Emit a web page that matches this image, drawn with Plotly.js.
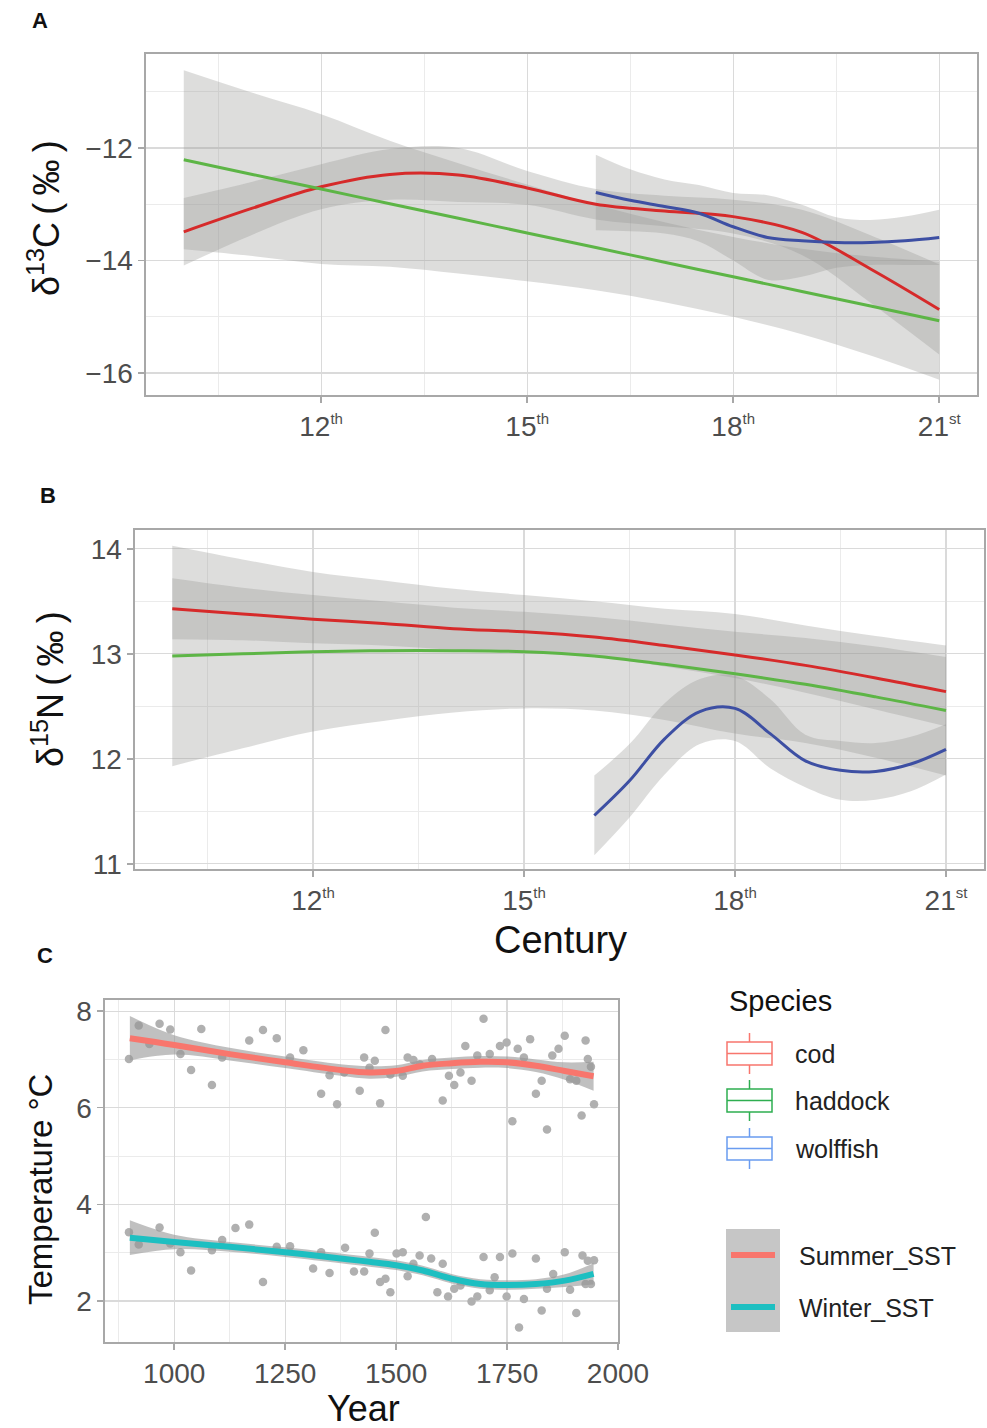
<!DOCTYPE html>
<html>
<head>
<meta charset="utf-8">
<script src="https://cdn.plot.ly/plotly-3.0.1.min.js"></script>
<style>html,body{margin:0;padding:0;background:#fff}#chart{width:987px;height:1428px}</style>
</head>
<body>
<div id="chart"></div>
<script>
// ---------- DATA ----------
// Panel A: delta13C by century
const centuryA = [10, 11, 12, 13, 14, 15, 16, 17, 18, 19, 20, 21];
const codA     = [-13.49, -13.07, -12.69, -12.47, -12.48, -12.71, -13.00, -13.12, -13.22, -13.50, -14.15, -14.87];
const codA_hi  = [-12.89, -12.60, -12.29, -12.02, -12.00, -12.41, -12.73, -12.85, -12.92, -13.10, -13.55, -14.07];
const codA_lo  = [-14.09, -13.54, -13.09, -12.92, -12.96, -13.01, -13.27, -13.39, -13.52, -13.90, -14.75, -15.67];
const hadA     = [-12.21, -12.47, -12.73, -12.99, -13.25, -13.51, -13.77, -14.03, -14.29, -14.55, -14.81, -15.07];
const hadA_hi  = [-10.62, -11.02, -11.40, -11.87, -12.27, -12.65, -13.01, -13.32, -13.58, -13.79, -13.93, -14.02];
const hadA_lo  = [-13.80, -13.92, -14.06, -14.11, -14.23, -14.37, -14.53, -14.74, -15.00, -15.31, -15.69, -16.12];
const centuryWolf = [16, 16.5, 17, 17.5, 18, 18.5, 19, 19.5, 20, 20.5, 21];
const wolfA    = [-12.79, -12.93, -13.04, -13.16, -13.40, -13.59, -13.65, -13.68, -13.68, -13.65, -13.59];
const wolfA_hi = [-12.12, -12.38, -12.56, -12.66, -12.80, -12.84, -13.01, -13.23, -13.28, -13.22, -13.10];
const wolfA_lo = [-13.46, -13.48, -13.52, -13.66, -14.00, -14.34, -14.29, -14.13, -14.08, -14.08, -14.08];

// Panel B: delta15N by century
const centuryB = [10, 11, 12, 13, 14, 15, 16, 17, 18, 19, 20, 21];
const codB     = [13.43, 13.38, 13.33, 13.29, 13.24, 13.21, 13.16, 13.08, 12.99, 12.89, 12.77, 12.64];
const codB_hi  = [13.72, 13.63, 13.56, 13.50, 13.44, 13.40, 13.35, 13.28, 13.21, 13.15, 13.07, 12.97];
const codB_lo  = [13.14, 13.13, 13.10, 13.08, 13.04, 13.02, 12.97, 12.88, 12.77, 12.63, 12.47, 12.31];
const hadB     = [12.98, 13.00, 13.02, 13.03, 13.03, 13.02, 12.98, 12.90, 12.81, 12.71, 12.59, 12.46];
const hadB_hi  = [14.03, 13.90, 13.78, 13.70, 13.62, 13.56, 13.50, 13.43, 13.38, 13.27, 13.17, 13.08];
const hadB_lo  = [11.93, 12.10, 12.26, 12.36, 12.44, 12.48, 12.46, 12.37, 12.24, 12.15, 12.01, 11.84];
const wolfB    = [11.46, 11.79, 12.19, 12.45, 12.48, 12.24, 11.98, 11.89, 11.88, 11.95, 12.09];
const wolfB_hi = [11.84, 12.14, 12.53, 12.76, 12.79, 12.57, 12.23, 12.17, 12.15, 12.21, 12.33];
const wolfB_lo = [11.08, 11.44, 11.85, 12.14, 12.17, 11.91, 11.73, 11.61, 11.61, 11.69, 11.85];

// Panel C: SST smooths
const yearsSmooth = [900, 1000, 1125, 1250, 1375, 1440, 1500, 1560, 1625, 1690, 1750, 1815, 1880, 1945];
const summerFit = [7.44, 7.30, 7.11, 6.94, 6.78, 6.73, 6.76, 6.87, 6.92, 6.95, 6.94, 6.87, 6.76, 6.65];
const summerHi  = [7.90, 7.50, 7.24, 7.06, 6.90, 6.86, 6.88, 6.99, 7.04, 7.07, 7.06, 7.00, 6.94, 6.95];
const summerLo  = [6.98, 7.10, 6.98, 6.82, 6.66, 6.60, 6.64, 6.75, 6.80, 6.83, 6.82, 6.74, 6.58, 6.35];
const winterFit = [3.31, 3.22, 3.12, 3.01, 2.88, 2.81, 2.74, 2.63, 2.46, 2.35, 2.33, 2.35, 2.42, 2.56];
const winterHi  = [3.67, 3.37, 3.22, 3.11, 2.98, 2.91, 2.84, 2.73, 2.56, 2.45, 2.43, 2.45, 2.55, 2.78];
const winterLo  = [2.95, 3.07, 3.02, 2.91, 2.78, 2.71, 2.64, 2.53, 2.36, 2.25, 2.23, 2.25, 2.29, 2.34];

// Panel C: observations
const summerYears = [898, 920, 944, 967, 991, 1014, 1038, 1061, 1085, 1108, 1169, 1200, 1231, 1261, 1291, 1331, 1350, 1367, 1383, 1418, 1428, 1440, 1452, 1464, 1476, 1487, 1515, 1526, 1539, 1553, 1581, 1605, 1619, 1631, 1645, 1656, 1670, 1683, 1697, 1711, 1734, 1749, 1762, 1774, 1788, 1802, 1815, 1828, 1840, 1852, 1866, 1880, 1892, 1906, 1918, 1927, 1932, 1939, 1946];
const summerObs   = [7.01, 7.70, 7.32, 7.74, 7.62, 7.11, 6.78, 7.63, 6.47, 7.04, 7.39, 7.61, 7.44, 7.04, 7.19, 6.29, 6.67, 6.07, 6.73, 6.35, 7.04, 6.83, 6.97, 6.09, 7.61, 6.69, 6.66, 7.04, 6.99, 6.90, 7.01, 6.15, 6.66, 6.47, 6.73, 7.28, 6.56, 7.08, 7.84, 7.11, 7.28, 7.35, 5.72, 7.22, 7.04, 7.42, 6.29, 6.56, 5.55, 7.08, 7.22, 7.49, 6.59, 6.56, 5.84, 7.39, 7.01, 6.85, 6.07];
const winterYears = [898, 920, 967, 991, 1014, 1038, 1085, 1108, 1138, 1169, 1200, 1231, 1261, 1313, 1331, 1350, 1385, 1405, 1428, 1440, 1452, 1464, 1476, 1487, 1501, 1515, 1526, 1539, 1553, 1567, 1579, 1593, 1605, 1617, 1631, 1645, 1670, 1683, 1697, 1711, 1722, 1734, 1749, 1762, 1777, 1788, 1815, 1828, 1840, 1854, 1880, 1892, 1906, 1920, 1927, 1932, 1939, 1946];
const winterObs   = [3.42, 3.17, 3.52, 3.19, 3.01, 2.63, 3.05, 3.26, 3.51, 3.58, 2.39, 3.12, 3.13, 2.67, 3.01, 2.58, 3.10, 2.61, 2.61, 2.98, 3.41, 2.39, 2.46, 2.18, 2.98, 3.01, 2.51, 2.77, 2.94, 3.74, 2.88, 2.18, 2.77, 2.09, 2.25, 2.32, 1.99, 2.09, 2.91, 2.22, 2.49, 2.91, 2.09, 2.98, 1.45, 2.04, 2.88, 1.80, 2.25, 2.56, 3.01, 2.23, 1.75, 2.94, 2.35, 2.83, 2.35, 2.84];

// tick labels
const centuryTicks = [12, 15, 18, 21];
const centuryNums = ['12', '15', '18', '21'];
const centurySuffix = ['th', 'th', 'th', 'st'];
const d13Ticks = [-16, -14, -12];
const d13Labels = ['\u221216', '\u221214', '\u221212'];
const d15Ticks = [11, 12, 13, 14];
const tempTicks = [2, 4, 6, 8];
const yearTicks = [1000, 1250, 1500, 1750, 2000];
const speciesNames = ['cod', 'haddock', 'wolffish'];
const sstNames = ['Summer_SST', 'Winter_SST'];

// ---------- STYLE ----------
const W = 987, H = 1428;
const FONT = 'Liberation Sans, Arial, sans-serif';
const px = v => v / W;
const py = v => 1 - v / H;
const RED = '#d62a2a', GREEN = '#5db546', BLUE = '#3d4fa3';
const RIB = 'rgba(150,148,146,0.32)';
const RIBC = 'rgba(150,150,150,0.6)';
const SUMMER = '#F8766D', WINTER = '#1DBFC1';
const boxCols = ['#F8766D', '#2EAE50', '#6A9CF0'];
const centuryLabels = centuryNums.map((n, i) => n + '<sup><span style="font-size:15px">' + centurySuffix[i] + '</span></sup>');

const traces = [];
function ribbon(x, lo, hi, xa, ya, col) {
  traces.push({x: x, y: lo, xaxis: xa, yaxis: ya, mode: 'lines', line: {width: 0, shape: 'spline'}, hoverinfo: 'skip', showlegend: false});
  traces.push({x: x, y: hi, xaxis: xa, yaxis: ya, mode: 'lines', line: {width: 0, shape: 'spline'}, fill: 'tonexty', fillcolor: col, hoverinfo: 'skip', showlegend: false});
}
function line(x, y, xa, ya, col, w) {
  traces.push({x: x, y: y, xaxis: xa, yaxis: ya, mode: 'lines', line: {color: col, width: w, shape: 'spline', smoothing: 1}, showlegend: false});
}

// Panel A
ribbon(centuryA, hadA_lo, hadA_hi, 'x', 'y', RIB);
ribbon(centuryA, codA_lo, codA_hi, 'x', 'y', RIB);
ribbon(centuryWolf, wolfA_lo, wolfA_hi, 'x', 'y', RIB);
line(centuryA, codA, 'x', 'y', RED, 3);
line(centuryA, hadA, 'x', 'y', GREEN, 3);
line(centuryWolf, wolfA, 'x', 'y', BLUE, 3);

// Panel B
ribbon(centuryB, hadB_lo, hadB_hi, 'x2', 'y2', RIB);
ribbon(centuryB, codB_lo, codB_hi, 'x2', 'y2', RIB);
ribbon(centuryWolf, wolfB_lo, wolfB_hi, 'x2', 'y2', RIB);
line(centuryB, codB, 'x2', 'y2', RED, 3);
line(centuryB, hadB, 'x2', 'y2', GREEN, 3);
line(centuryWolf, wolfB, 'x2', 'y2', BLUE, 3);

// Panel C
traces.push({x: summerYears, y: summerObs, xaxis: 'x3', yaxis: 'y3', mode: 'markers', marker: {color: '#b0b0b0', size: 8.5}, showlegend: false});
traces.push({x: winterYears, y: winterObs, xaxis: 'x3', yaxis: 'y3', mode: 'markers', marker: {color: '#b0b0b0', size: 8.5}, showlegend: false});
ribbon(yearsSmooth, summerLo, summerHi, 'x3', 'y3', RIBC);
ribbon(yearsSmooth, winterLo, winterHi, 'x3', 'y3', RIBC);
line(yearsSmooth, summerFit, 'x3', 'y3', SUMMER, 6);
line(yearsSmooth, winterFit, 'x3', 'y3', WINTER, 6);

// ---------- AXES ----------
const GRID = '#dadada', MINOR = '#ebebeb', FRAME = '#a8a8a8';
function axis(extra) {
  return Object.assign({
    showline: true, mirror: true, linecolor: FRAME, linewidth: 1.6,
    showgrid: true, gridcolor: GRID, gridwidth: 1.2, zeroline: false,
    ticks: 'outside', ticklen: 6, tickwidth: 1.5, tickcolor: FRAME,
    tickfont: {family: FONT, size: 28, color: '#4d4d4d'},
    tickmode: 'array', fixedrange: true
  }, extra);
}

const layout = {
  width: W, height: H, margin: {l: 0, r: 0, t: 0, b: 0},
  paper_bgcolor: '#fff', plot_bgcolor: '#fff', showlegend: false,
  font: {family: FONT},
  xaxis: axis({domain: [px(146), px(977)], range: [9.45, 21.55], anchor: 'y', tickvals: centuryTicks, ticktext: centuryLabels,
    minor: {tickvals: [10.5, 13.5, 16.5, 19.5], showgrid: true, gridcolor: MINOR, gridwidth: 1, ticks: ''}}),
  yaxis: axis({domain: [py(395), py(54)], range: [-16.39, -10.33], anchor: 'x', tickvals: d13Ticks, ticktext: d13Labels,
    minor: {tickvals: [-15, -13, -11], showgrid: true, gridcolor: MINOR, gridwidth: 1, ticks: ''}}),
  xaxis2: axis({domain: [px(135), px(984)], range: [9.47, 21.54], anchor: 'y2', tickvals: centuryTicks, ticktext: centuryLabels,
    minor: {tickvals: [10.5, 13.5, 16.5, 19.5], showgrid: true, gridcolor: MINOR, gridwidth: 1, ticks: ''}}),
  yaxis2: axis({domain: [py(869), py(530)], range: [10.95, 14.18], anchor: 'x2', tickvals: d15Ticks,
    minor: {tickvals: [11.5, 12.5, 13.5], showgrid: true, gridcolor: MINOR, gridwidth: 1, ticks: ''}}),
  xaxis3: axis({domain: [px(105), px(618)], range: [844, 2000], anchor: 'y3', tickvals: yearTicks,
    minor: {tickvals: [875, 1125, 1375, 1625, 1875], showgrid: true, gridcolor: MINOR, gridwidth: 1, ticks: ''}}),
  yaxis3: axis({domain: [py(1342), py(1000)], range: [1.15, 8.23], anchor: 'x3', tickvals: tempTicks,
    minor: {tickvals: [3, 5, 7], showgrid: true, gridcolor: MINOR, gridwidth: 1, ticks: ''}}),
  annotations: [],
  shapes: []
};

const ann = layout.annotations;
function text(t, x, y, size, opts) {
  ann.push(Object.assign({text: t, x: px(x), y: py(y), xref: 'paper', yref: 'paper', showarrow: false,
    font: {family: FONT, size: size, color: '#111'}, xanchor: 'center', yanchor: 'middle'}, opts || {}));
}
// panel letters
text('<b>A</b>', 40, 21, 22);
text('<b>B</b>', 48, 495, 22);
text('<b>C</b>', 45, 956, 22);
// axis titles
text('\u03b4<sup>13</sup>C\u2009(\u2009\u2030\u2009)', 44, 218, 36, {textangle: -90});
text('\u03b4<sup>15</sup>N\u2009(\u2009\u2030\u2009)', 48, 689, 36, {textangle: -90});
text('Century', 560, 940, 38);
text('Temperature \u00b0C', 40, 1190, 33, {textangle: -90});
text('Year', 363, 1408, 36);

// legend: Species
text('Species', 727, 1001, 29, {xanchor: 'left'});
const boxTop = [1042, 1089, 1137];
const shapes = layout.shapes;
speciesNames.forEach((nm, i) => {
  const t = boxTop[i], b = t + 23, m = t + 11.5, c = boxCols[i];
  shapes.push({type: 'rect', xref: 'paper', yref: 'paper', x0: px(727), x1: px(772), y0: py(b), y1: py(t), line: {color: c, width: 1.5}});
  shapes.push({type: 'line', xref: 'paper', yref: 'paper', x0: px(727), x1: px(772), y0: py(m), y1: py(m), line: {color: c, width: 1.5}});
  shapes.push({type: 'line', xref: 'paper', yref: 'paper', x0: px(749.5), x1: px(749.5), y0: py(t), y1: py(t - 9), line: {color: c, width: 1.5}});
  shapes.push({type: 'line', xref: 'paper', yref: 'paper', x0: px(749.5), x1: px(749.5), y0: py(b), y1: py(b + 9), line: {color: c, width: 1.5}});
  text(nm, 793, m, 25, {xanchor: 'left', font: {family: FONT, size: 25, color: '#222'}});
});
// legend: SST
shapes.push({type: 'rect', xref: 'paper', yref: 'paper', x0: px(726), x1: px(780), y0: py(1332), y1: py(1229), fillcolor: '#c6c6c6', line: {width: 0}});
shapes.push({type: 'line', xref: 'paper', yref: 'paper', x0: px(731), x1: px(775), y0: py(1255), y1: py(1255), line: {color: SUMMER, width: 6}});
shapes.push({type: 'line', xref: 'paper', yref: 'paper', x0: px(731), x1: px(775), y0: py(1307), y1: py(1307), line: {color: WINTER, width: 6}});
text(sstNames[0], 797, 1256, 25, {xanchor: 'left', font: {family: FONT, size: 25, color: '#222'}});
text(sstNames[1], 797, 1308, 25, {xanchor: 'left', font: {family: FONT, size: 25, color: '#222'}});

Plotly.newPlot('chart', traces, layout, {staticPlot: true, displayModeBar: false});
</script>
</body>
</html>
